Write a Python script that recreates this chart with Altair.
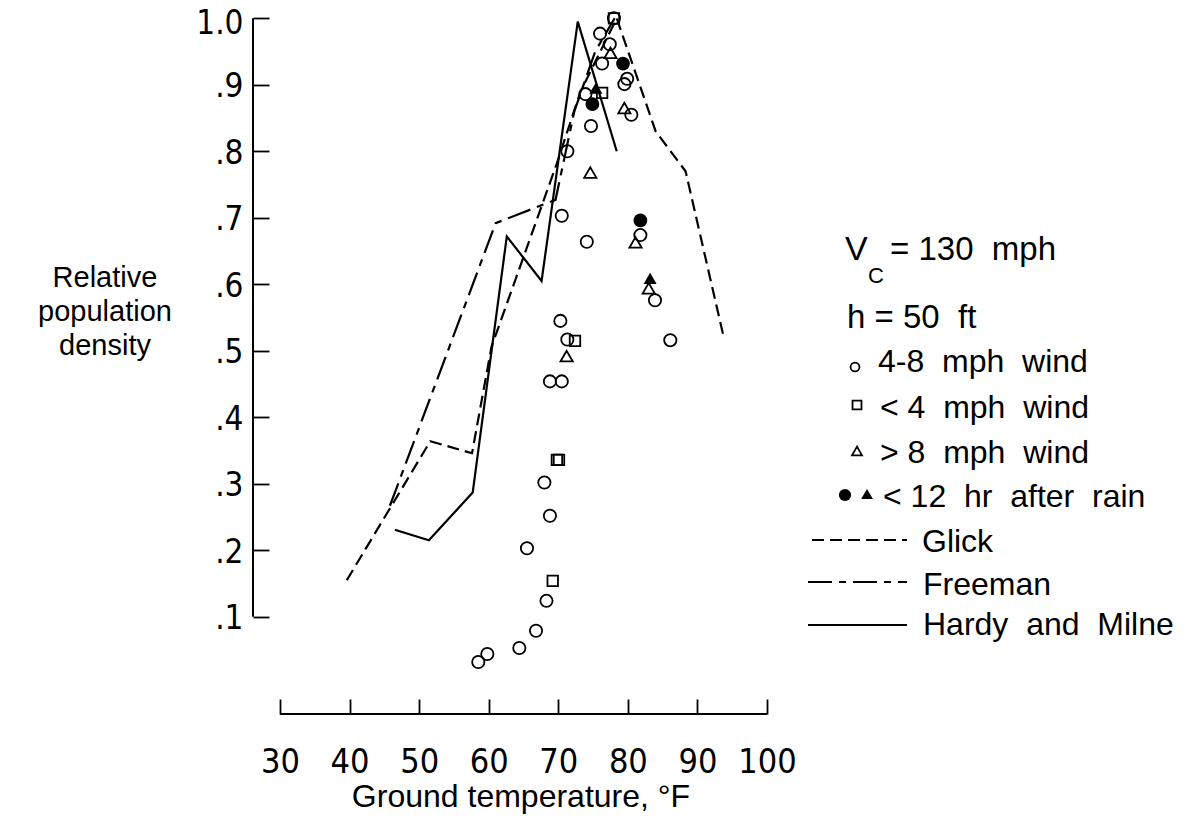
import altair as alt
import pandas as pd

# ---------------- data ----------------
# open circles: 4-8 mph wind
circ_t = [76.0, 78.0, 77.4, 76.3, 79.9, 79.5, 73.9, 80.5, 74.7, 71.3, 70.5, 74.1, 81.8, 83.9,
          86.1, 70.3, 71.3, 68.8, 70.5, 68.0, 68.8, 65.5, 68.3, 66.8, 64.4, 58.5, 59.8]
circ_v = [0.977, 1.0, 0.961, 0.932, 0.909, 0.901, 0.886, 0.855, 0.838, 0.80, 0.703, 0.664, 0.674, 0.576,
          0.516, 0.545, 0.517, 0.454, 0.454, 0.302, 0.252, 0.203, 0.124, 0.079, 0.053, 0.032, 0.044]
# open squares: < 4 mph wind
sq_t = [78.0, 76.3, 72.4, 69.8, 70.1, 69.2]
sq_v = [1.0, 0.888, 0.515, 0.336, 0.336, 0.154]
# open triangles: > 8 mph wind
tri_t = [77.5, 79.5, 74.6, 81.1, 83.0, 71.2]
tri_v = [0.948, 0.865, 0.768, 0.663, 0.594, 0.492]
# filled symbols: < 12 hr after rain
rain_circ_t = [79.3, 74.9, 81.8]
rain_circ_v = [0.932, 0.871, 0.696]
rain_tri_t = [83.2, 75.4]
rain_tri_v = [0.609, 0.895]

# reference curves
glick_t = [39.6, 51.6, 57.6, 60.4, 69.8, 73.2, 78.4, 84.0, 88.3, 93.7]
glick_v = [0.155, 0.364, 0.346, 0.506, 0.782, 0.89, 1.0, 0.83, 0.77, 0.524]
freeman_t = [45.8, 61.0, 69.6, 72.3, 75.3, 78.1]
freeman_v = [0.267, 0.692, 0.727, 0.86, 0.95, 1.0]
hardy_t = [46.5, 51.4, 57.7, 62.6, 67.6, 72.8, 78.4]
hardy_v = [0.231, 0.215, 0.287, 0.672, 0.605, 0.995, 0.80]

x_ticks = [30, 40, 50, 60, 70, 80, 90, 100]
y_ticks = [0.1, 0.2, 0.3, 0.4, 0.5, 0.6, 0.7, 0.8, 0.9, 1.0]

x_title = "Ground temperature, \u00b0F"
y_title = ["Relative", "population", "density"]

# ---------------- styling ----------------
NARROW = "Liberation Sans Narrow, Arial Narrow, DejaVu Sans Condensed, sans-serif"
SANS = "Liberation Sans, Arial, sans-serif"
W, H = 487, 691

xs = alt.Scale(domain=[30, 100], nice=False, zero=False)
ys = alt.Scale(domain=[-0.0236, 1.0155], nice=False, zero=False)

xaxis = alt.Axis(values=x_ticks, domain=False, grid=False, tickSize=15, tickWidth=1.8,
                 tickColor="black", labelFont=NARROW, labelFontSize=34, labelColor="black",
                 labelPadding=31, title=None, labelFlush=False)
yaxis = alt.Axis(values=y_ticks, domain=False, grid=False, tickSize=16, tickWidth=1.8,
                 tickColor="black", offset=11, labelFont=NARROW, labelFontSize=33,
                 labelColor="black", labelPadding=10,
                 labelOffset={"condition": {"test": "datum.value >= 0.99", "value": 5}, "value": 2},
                 title=None, labelFlush=False,
                 labelExpr="datum.value >= 0.99 ? '1.0' : '.' + round(datum.value * 10)")

X = alt.X("t:Q", scale=xs, axis=xaxis)
Y = alt.Y("v:Q", scale=ys, axis=yaxis)


def df(t, v):
    return pd.DataFrame({"t": t, "v": v})


def points(t, v, shape, size, filled):
    return alt.Chart(df(t, v)).mark_point(
        shape=shape, size=size, filled=filled, color="black", strokeWidth=1.8, opacity=1
    ).encode(x=X, y=Y)


def curve(t, v, dash=None):
    kw = dict(color="black", strokeWidth=2.2)
    if dash:
        kw["strokeDash"] = dash
    return alt.Chart(df(t, v)).mark_line(**kw).encode(x=X, y=Y, order="t:Q")


one = pd.DataFrame({"k": [0]})


def txt(s, x, y, size=32, align="left", font=SANS):
    return alt.Chart(one).mark_text(
        text=s, align=align, baseline="alphabetic", font=font, fontSize=size, color="black"
    ).encode(x=alt.value(x), y=alt.value(y))


def sym(shape, x, y, size, filled):
    return alt.Chart(one).mark_point(
        shape=shape, size=size, filled=filled, color="black", strokeWidth=1.8, opacity=1
    ).encode(x=alt.value(x), y=alt.value(y))


def seg(x1, x2, y, dash=None):
    kw = dict(color="black", strokeWidth=2.2)
    if dash:
        kw["strokeDash"] = dash
    return alt.Chart(one).mark_rule(**kw).encode(x=alt.value(x1), x2=alt.value(x2), y=alt.value(y))


GLICK_DASH = [12, 6]
FREEMAN_DASH = [24, 7, 7, 7]

# axis frame lines (y axis only spans .1 to 1.0; x axis sits under the ticks)
yline = alt.Chart(pd.DataFrame({"v": [0.1], "v2": [1.0]})).mark_rule(
    color="black", strokeWidth=2
).encode(x=alt.value(-27), y=Y, y2="v2:Q")
xline = alt.Chart(one).mark_rule(color="black", strokeWidth=2).encode(
    x=alt.value(0), x2=alt.value(W), y=alt.value(H + 15))

layers = [
    yline, xline,
    curve(glick_t, glick_v, GLICK_DASH),
    curve(freeman_t, freeman_v, FREEMAN_DASH),
    curve(hardy_t, hardy_v),
    points(circ_t, circ_v, "circle", 150, False),
    points(sq_t, sq_v, "square", 110, False),
    points(tri_t, tri_v, "triangle-up", 150, False),
    points(rain_circ_t, rain_circ_v, "circle", 190, True),
    points(rain_tri_t, rain_tri_v, "triangle-up", 170, True),
    # axis titles
    txt(x_title, 241, 799, size=32, align="center"),
    txt(y_title[0], -175, 279, size=29, align="center"),
    txt(y_title[1], -175, 313, size=29, align="center"),
    txt(y_title[2], -175, 347, size=29, align="center"),
    # legend block
    txt("V", 565, 252, size=34),
    txt("C", 588, 275, size=22),
    txt("= 130\u00a0 mph", 610, 252, size=33),
    txt("h = 50\u00a0 ft", 567, 320, size=33),
    sym("circle", 575, 359, 80, False),
    txt("4-8\u00a0 mph\u00a0 wind", 598, 364),
    sym("square", 577, 397, 80, False),
    txt("< 4\u00a0 mph\u00a0 wind", 600, 410),
    sym("triangle-up", 577, 443, 100, False),
    txt("> 8\u00a0 mph\u00a0 wind", 600, 455),
    sym("circle", 565, 487, 150, True),
    sym("triangle-up", 587, 486, 140, True),
    txt("< 12\u00a0 hr\u00a0 after\u00a0 rain", 603, 499),
    seg(532, 627, 532, GLICK_DASH),
    txt("Glick", 642, 544),
    seg(528, 627, 574, FREEMAN_DASH),
    txt("Freeman", 643, 587),
    seg(528, 627, 617),
    txt("Hardy\u00a0 and\u00a0 Milne", 643, 627),
]

chart = alt.layer(*layers).properties(
    width=W, height=H,
    autosize=alt.AutoSizeParams(type="none"),
    padding={"left": 272, "top": 0, "right": 424, "bottom": 115},
    background="white",
).configure_view(stroke=None)

chart.save("out.html", embed_options={"renderer": "svg", "actions": False})
